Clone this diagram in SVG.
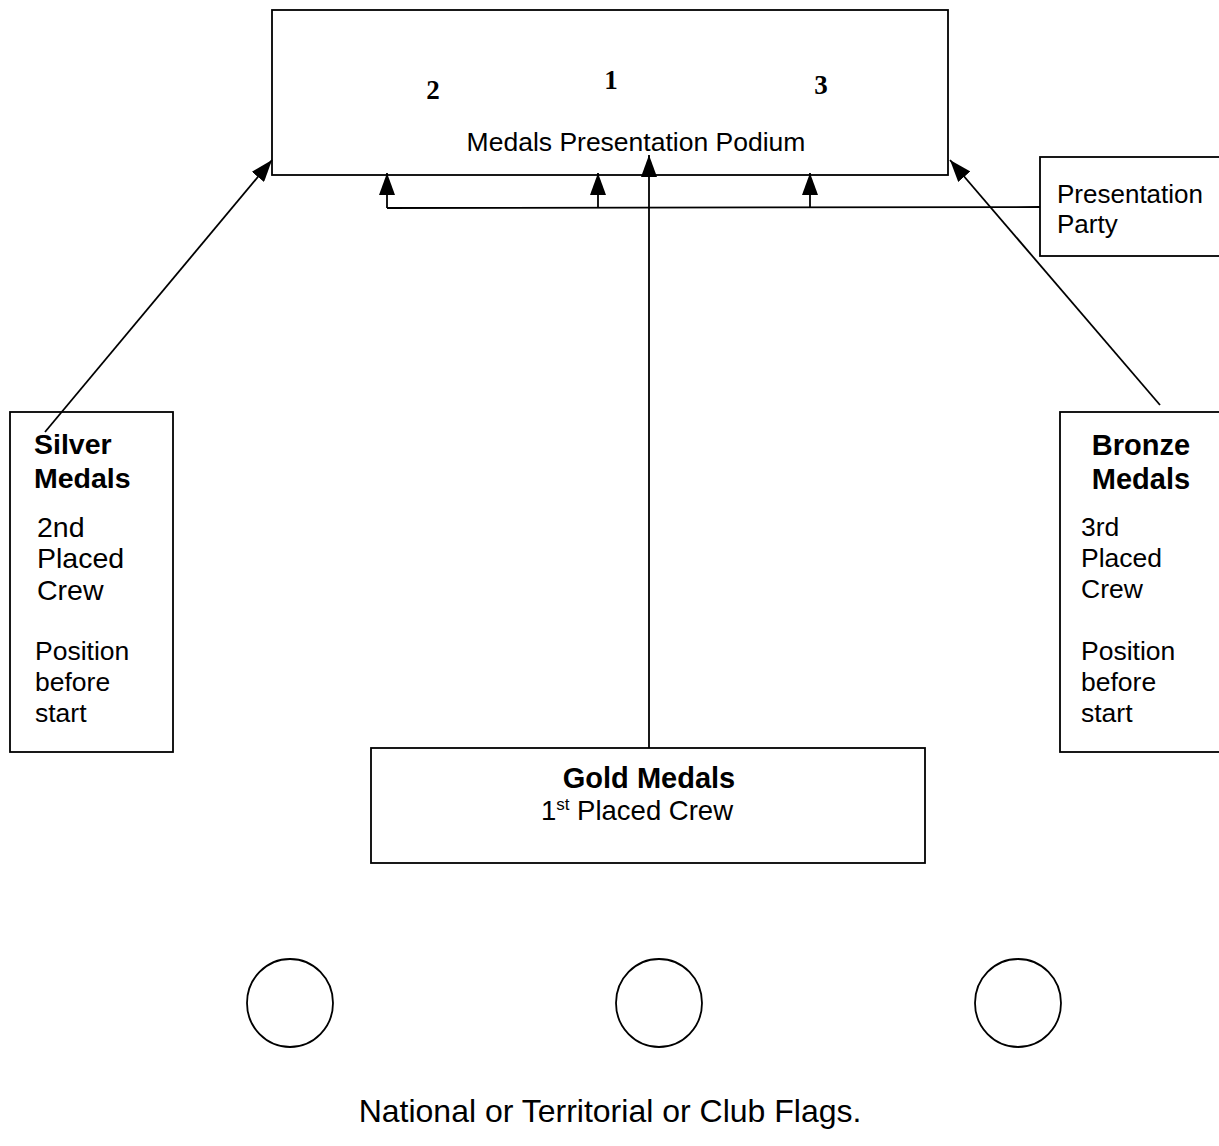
<svg xmlns="http://www.w3.org/2000/svg" width="1219" height="1146" viewBox="0 0 1219 1146">
<style>
.box{fill:#fff;stroke:#000;stroke-width:1.8}
.ln{fill:none;stroke:#000;stroke-width:1.8}
.t{font-family:"Liberation Sans",Arial,sans-serif;font-size:26.5px;fill:#000}
.b{font-weight:bold;font-size:28.5px}
.b29{font-weight:bold;font-size:29px}
.big{font-size:28.5px}
.n{font-family:"Liberation Serif","Times New Roman",serif;font-size:27px;font-weight:bold;fill:#000}
</style>
<defs>
<marker id="ah" markerWidth="22" markerHeight="16" refX="22" refY="8" viewBox="0 0 22 16" orient="auto" markerUnits="userSpaceOnUse">
<path d="M0,0 L22,8 L0,16 Z" fill="#000"/>
</marker>
</defs>
<rect width="1219" height="1146" fill="#fff"/>
<g id="podium">
<rect class="box" x="272" y="10" width="676" height="165"/>
<text class="n" x="433" y="99" text-anchor="middle">2</text>
<text class="n" x="611" y="89" text-anchor="middle">1</text>
<text class="n" x="821" y="94" text-anchor="middle">3</text>
<text class="t" x="636" y="151" text-anchor="middle">Medals Presentation Podium</text>
</g>
<g id="party">
<rect class="box" x="1040" y="157" width="190" height="99"/>
<text class="t" x="1057" y="203" style="font-size:26px">Presentation</text>
<text class="t" x="1057" y="233" style="font-size:26px">Party</text>
</g>
<g id="silver">
<rect class="box" x="10" y="412" width="163" height="340"/>
<text class="t b" x="34" y="454">Silver</text>
<text class="t b" x="34" y="488">Medals</text>
<text class="t big" x="37" y="537">2nd</text>
<text class="t big" x="37" y="568">Placed</text>
<text class="t big" x="37" y="600">Crew</text>
<text class="t" x="35" y="660">Position</text>
<text class="t" x="35" y="691">before</text>
<text class="t" x="35" y="722">start</text>
</g>
<g id="bronze">
<rect class="box" x="1060" y="412" width="170" height="340"/>
<text class="t b29" x="1141" y="455" text-anchor="middle">Bronze</text>
<text class="t b29" x="1141" y="489" text-anchor="middle">Medals</text>
<text class="t" x="1081" y="536">3rd</text>
<text class="t" x="1081" y="567">Placed</text>
<text class="t" x="1081" y="598">Crew</text>
<text class="t" x="1081" y="660">Position</text>
<text class="t" x="1081" y="691">before</text>
<text class="t" x="1081" y="722">start</text>
</g>
<g id="gold">
<rect class="box" x="371" y="748" width="554" height="115"/>
<text class="t b29" x="649" y="788" text-anchor="middle">Gold Medals</text>
<text class="t" x="637" y="820" text-anchor="middle" style="font-size:27.5px">1<tspan style="font-size:17px" dy="-10">st</tspan><tspan dy="10"> Placed Crew</tspan></text>
</g>
<g id="flags">
<ellipse class="ln" cx="290" cy="1003" rx="43" ry="44"/>
<ellipse class="ln" cx="659" cy="1003" rx="43" ry="44"/>
<ellipse class="ln" cx="1018" cy="1003" rx="43" ry="44"/>
<text class="t" x="610" y="1122" text-anchor="middle" style="font-size:32px">National or Territorial or Club Flags.</text>
</g>
<g id="connectors">
<line class="ln" x1="45" y1="432" x2="272" y2="160" marker-end="url(#ah)"/>
<line class="ln" x1="1160" y1="405" x2="950" y2="160" marker-end="url(#ah)"/>
<line class="ln" x1="649" y1="748" x2="649" y2="155" marker-end="url(#ah)"/>
<polyline class="ln" points="1040,207 387,208"/>
<line class="ln" x1="387" y1="208" x2="387" y2="173" marker-end="url(#ah)"/>
<line class="ln" x1="598" y1="208" x2="598" y2="173" marker-end="url(#ah)"/>
<line class="ln" x1="810" y1="208" x2="810" y2="173" marker-end="url(#ah)"/>
</g>
</svg>
